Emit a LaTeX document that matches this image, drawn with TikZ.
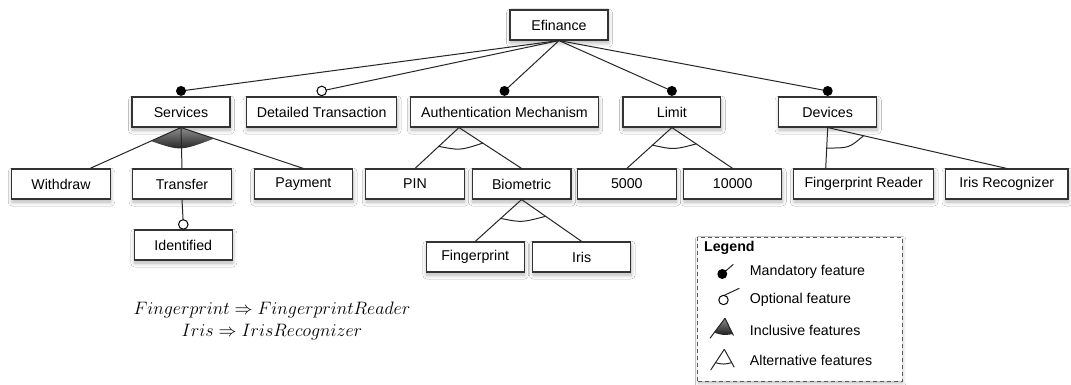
\documentclass[tikz,border=0pt]{standalone}
\usepackage{fontspec}
\setmainfont{Liberation Sans}
\usetikzlibrary{calc,shadows.blur}
\begin{document}
\begin{tikzpicture}[x=1pt,y=-1pt,
  feat/.style={draw=black!80, line width=1.1pt, fill=white, minimum height=30pt, inner sep=0pt,
    font=\fontsize{14.2}{16}\selectfont, text=black,
    blur shadow={shadow xshift=0.5pt, shadow yshift=-3pt, shadow blur radius=4pt, shadow blur steps=10, shadow opacity=30}},
  con/.style={line width=1pt, draw=black!85},
  mand/.style={circle, fill=black, inner sep=0pt, minimum size=10pt},
  opt/.style={circle, draw=black, line width=1pt, fill=white, inner sep=0pt, minimum size=9.5pt},
  grp/.style={top color=black!45, bottom color=black!90},
  legtext/.style={anchor=west, inner sep=0pt, font=\fontsize{14.2}{16}\selectfont, text=black},
  constr/.style={inner sep=0pt, font=\fontsize{17.28}{22}\selectfont}
]
\fill[white] (0,0) rectangle (1071,385);
\useasboundingbox (0,0) rectangle (1071,385);

% feature boxes
\node[feat, minimum width=98pt]  (efinance)   at (559,25)    {Efinance};
\node[feat, minimum width=98pt]  (services)   at (181,112)   {Services};
\node[feat, minimum width=150pt] (detailed)   at (321.7,112) {Detailed Transaction};
\node[feat, minimum width=187.4pt] (auth)     at (504.5,112) {Authentication Mechanism};
\node[feat, minimum width=97.8pt] (limit)     at (671.9,112) {Limit};
\node[feat, minimum width=98.2pt] (devices)   at (827.7,112) {Devices};
\node[feat, minimum width=98.5pt] (withdraw)  at (61,184)    {Withdraw};
\node[feat, minimum width=98.8pt] (transfer)  at (182,184)   {Transfer};
\node[feat, minimum width=98.5pt] (payment)   at (303.4,184) {Payment};
\node[feat, minimum width=98.5pt] (pin)       at (415,184)   {PIN};
\node[feat, minimum width=98.8pt] (biometric) at (521.6,184) {Biometric};
\node[feat, minimum width=98.5pt] (n5000)     at (626.8,184) {5000};
\node[feat, minimum width=98.1pt] (n10000)    at (732.7,184) {10000};
\node[feat, minimum width=139.8pt] (fpreader) at (863.7,184) {Fingerprint Reader};
\node[feat, minimum width=122.4pt] (irisrec)  at (1006.8,184) {Iris Recognizer};
\node[feat, minimum width=98pt]  (identified) at (183.3,245) {Identified};
\node[feat, minimum width=97.8pt] (fingerprint) at (475.2,257) {Fingerprint};
\node[feat, minimum width=97.8pt] (iris)      at (581.7,257) {Iris};

% root connectors
\draw[con] (efinance.south) -- ([yshift=5.5pt]services.north) node[mand]{};
\draw[con] (efinance.south) -- ([yshift=5.5pt]detailed.north) node[opt]{};
\draw[con] (efinance.south) -- ([yshift=5.5pt]auth.north) node[mand]{};
\draw[con] (efinance.south) -- ([yshift=5.5pt]limit.north) node[mand]{};
\draw[con] (efinance.south) -- ([yshift=5.5pt]devices.north) node[mand]{};

% Services: inclusive group
\coordinate (wa) at ([xshift=29pt]withdraw.north);
\shade[grp] (services.south) -- ($(services.south)!0.33!(wa)$) .. controls (180.5,151.2) .. ($(services.south)!0.27!(payment.north)$) -- cycle;
\draw[con] (services.south) -- (wa);
\draw[con] (services.south) -- (transfer.north);
\draw[con] (services.south) -- (payment.north);

% Transfer -> Identified (optional)
\draw[con] (transfer.south) -- ([yshift=5pt]identified.north) node[opt]{};

% Authentication: alternative group
\coordinate (aa) at ([xshift=-45.5pt]auth.south);
\draw[con] (aa) -- (pin.north);
\draw[con] (aa) -- (biometric.north);
\draw[con] ($(aa)!0.46!(pin.north)$) .. controls (460,150.5) .. ($(aa)!0.38!(biometric.north)$);

% Limit: alternative group
\draw[con] (limit.south) -- (n5000.north);
\draw[con] (limit.south) -- (n10000.north);
\draw[con] ($(limit.south)!0.43!(n5000.north)$) .. controls (673.8,149.8) .. ($(limit.south)!0.40!(n10000.north)$);

% Devices: alternative group
\coordinate (fr) at ([xshift=-38pt]fpreader.north);
\draw[con] (devices.south) -- (fr);
\draw[con] (devices.south) -- (irisrec.north);
\draw[con] ($(devices.south)!0.5!(fr)$) .. controls (849,148.1) .. ($(devices.south)!0.2!(irisrec.north)$);

% Biometric: alternative group
\draw[con] (biometric.south) -- (fingerprint.north);
\draw[con] (biometric.south) -- (iris.north);
\draw[con] ($(biometric.south)!0.45!(fingerprint.north)$) .. controls (521.6,222.6) .. ($(biometric.south)!0.4!(iris.north)$);

% constraints
\node[constr] (c1) at (272,310) {\scalebox{1.04}{$Fingerprint \Rightarrow FingerprintReader$}};
\node[constr] (c2) at (272,332) {\scalebox{1.04}{$Iris \Rightarrow IrisRecognizer$}};

% legend
\node[draw=black!65, dashed, dash pattern=on 4pt off 3pt, line width=1pt, fill=white,
      minimum width=204.5pt, minimum height=144pt, inner sep=0pt,
      blur shadow={shadow xshift=0.5pt, shadow yshift=-2.5pt, shadow blur radius=3pt, shadow opacity=25}]
      (legend) at (800,309) {};
\node[legtext, font=\fontsize{14.2}{16}\selectfont\bfseries] (lgtitle) at (703.9,248.3) {Legend};
\node[legtext] (lg1) at (749.7,272.3) {Mandatory feature};
\node[legtext] (lg2) at (749.7,300) {Optional feature};
\node[legtext] (lg3) at (749.7,330) {Inclusive features};
\node[legtext] (lg4) at (749.7,360.7) {Alternative features};

% legend icons
\draw[con] (722.3,274) -- (733.3,264.3);
\fill[black] (722.3,274) circle (5);
\draw[con] (724.3,295.3) -- (739.3,288.3);
\draw[black, line width=1pt] (723.5,300) circle (4.7);
\shade[grp] (725,318.3) -- (714.2,332.7) .. controls (723.5,335.5) .. (733,334) -- cycle;
\draw[con] (725,318.3) -- (710,338.3);
\draw[con] (725,318.3) -- (733.5,335.5);
\draw[con] (724.3,349.3) -- (710.7,370);
\draw[con] (724.3,349.3) -- (734.3,367.3);
\draw[con] (715.5,362.7) .. controls (723.5,364.5) .. (731.7,362.7);
\end{tikzpicture}
\end{document}
